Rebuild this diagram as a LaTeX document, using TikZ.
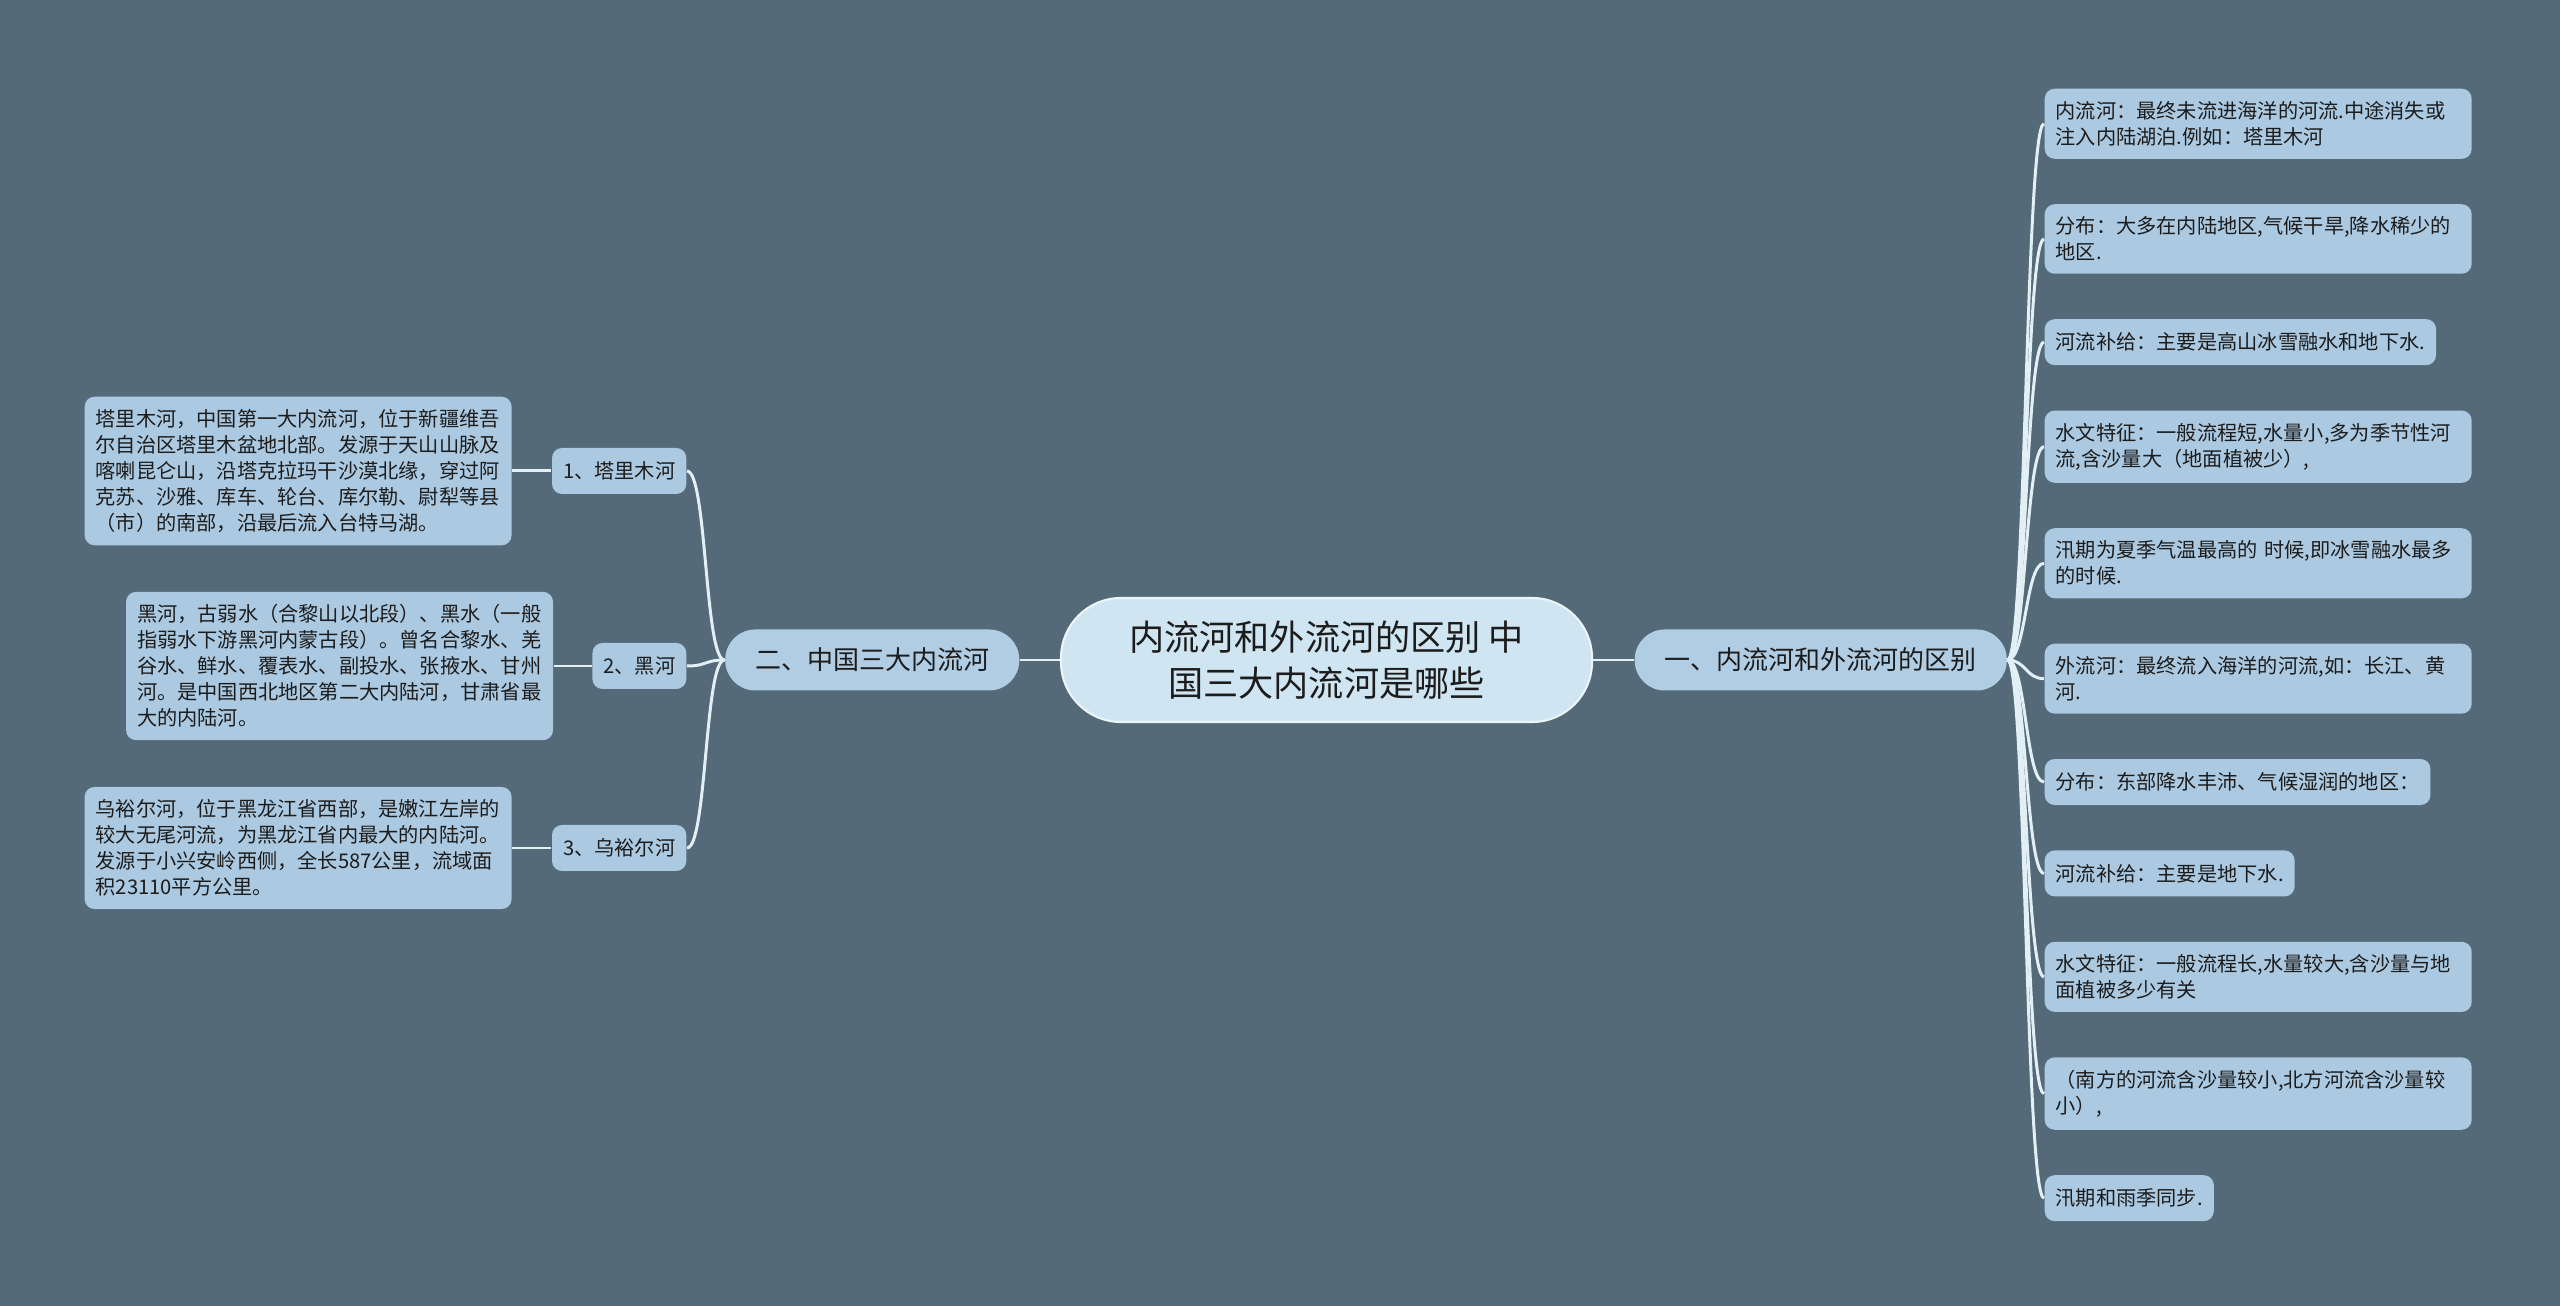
\documentclass[tikz,border=0pt]{standalone}
\usepackage{fontspec}
\setmainfont{Noto Sans CJK SC}
\usetikzlibrary{positioning}
\definecolor{bgslate}{RGB}{85,106,121}
\definecolor{topicc}{RGB}{207,229,241}
\definecolor{topicline}{RGB}{236,245,250}
\definecolor{branchc}{RGB}{176,205,227}
\definecolor{leafc}{RGB}{171,201,224}
\definecolor{linkc}{RGB}{226,239,245}
\definecolor{inkc}{RGB}{28,28,28}

\begin{document}
\begin{tikzpicture}[
  link/.style={line width=0.85pt,draw=linkc},
  topic/.style={fill=topicc,draw=topicline,line width=0.6pt,rounded corners=0.6cm,minimum width=5.31cm,minimum height=1.24cm,align=center,text=inkc,font=\fontsize{10pt}{13pt}\selectfont},
  branch/.style={fill=branchc,rounded corners=0.3cm,minimum height=0.61cm,inner xsep=0.3cm,text=inkc,font=\fontsize{7.4pt}{9pt}\selectfont},
  item/.style={fill=leafc,rounded corners=0.1cm,inner xsep=0.11cm,inner ysep=3.6pt,minimum height=0.46cm,text=inkc,font=\fontsize{5.75pt}{7.4pt}\selectfont},
  note/.style={item,text width=4.05cm,align=left}
]
\useasboundingbox (0,0) rectangle (25.6,-13.06);
\fill[bgslate] (0,0) rectangle (25.6,-13.06);

\node[topic] (root) at (13.265,-6.60) {内流河和外流河的区别 中\\国三大内流河是哪些};
\node[branch,anchor=west] (diff) at (16.34,-6.60) {一、内流河和外流河的区别};
\node[branch,anchor=east] (three) at (10.20,-6.60) {二、中国三大内流河};

\node[note,anchor=north west] (inner) at (20.44,-0.88) {内流河：最终未流进海洋的河流.中途消失或\\注入内陆湖泊.例如：塔里木河};
\node[note,below=0.44cm of inner.south west,anchor=north west] (idist) {分布：大多在内陆地区,气候干旱,降水稀少的\\地区.};
\node[item,below=0.44cm of idist.south west,anchor=north west] (isupply) {河流补给：主要是高山冰雪融水和地下水.};
\node[note,below=0.44cm of isupply.south west,anchor=north west] (ihydro) {水文特征：一般流程短,水量小,多为季节性河\\流,含沙量大（地面植被少）,};
\node[note,below=0.44cm of ihydro.south west,anchor=north west] (iflood) {汛期为夏季气温最高的~时候,即冰雪融水最多\\的时候.};
\node[note,below=0.44cm of iflood.south west,anchor=north west] (outer) {外流河：最终流入海洋的河流,如：长江、黄\\河.};
\node[item,below=0.44cm of outer.south west,anchor=north west] (odist) {分布：东部降水丰沛、气候湿润的地区：};
\node[item,below=0.44cm of odist.south west,anchor=north west] (osupply) {河流补给：主要是地下水.};
\node[note,below=0.44cm of osupply.south west,anchor=north west] (ohydro) {水文特征：一般流程长,水量较大,含沙量与地\\面植被多少有关};
\node[note,below=0.44cm of ohydro.south west,anchor=north west] (osand) {（南方的河流含沙量较小,北方河流含沙量较\\小）,};
\node[item,below=0.44cm of osand.south west,anchor=north west] (oflood) {汛期和雨季同步.};

\node[item,anchor=east] (tarim) at (6.87,-4.71) {1、塔里木河};
\node[item,anchor=east] (heihe) at (6.87,-6.66) {2、黑河};
\node[item,anchor=east] (wuyur) at (6.87,-8.48) {3、乌裕尔河};
\node[note,left=0.39cm of tarim] (tarimtxt) {塔里木河，中国第一大内流河，位于新疆维吾\\尔自治区塔里木盆地北部。发源于天山山脉及\\喀喇昆仑山，沿塔克拉玛干沙漠北缘，穿过阿\\克苏、沙雅、库车、轮台、库尔勒、尉犁等县\\（市）的南部，沿最后流入台特马湖。};
\node[note,left=0.38cm of heihe] (heihetxt) {黑河，古弱水（合黎山以北段）、黑水（一般\\指弱水下游黑河内蒙古段）。曾名合黎水、羌\\谷水、鲜水、覆表水、副投水、张掖水、甘州\\河。是中国西北地区第二大内陆河，甘肃省最\\大的内陆河。};
\node[note,left=0.39cm of wuyur] (wuyurtxt) {乌裕尔河，位于黑龙江省西部，是嫩江左岸的\\较大无尾河流，为黑龙江省内最大的内陆河。\\发源于小兴安岭西侧，全长587公里，流域面\\积23110平方公里。};

\draw[link] (root.east) -- (diff.west);
\draw[link] (root.west) -- (three.east);
\foreach \n in {inner,idist,isupply,ihydro,iflood,outer,odist,osupply,ohydro,osand,oflood}
  \draw[link] (diff.east) .. controls +(0.185,0) and +(-0.185,0) .. (\n.west);
\foreach \n in {tarim,heihe,wuyur}
  \draw[link] (three.west) .. controls +(-0.2,0) and +(0.2,0) .. (\n.east);
\draw[link] (tarimtxt) -- (tarim);
\draw[link] (heihetxt) -- (heihe);
\draw[link] (wuyurtxt) -- (wuyur);
\end{tikzpicture}
\end{document}
